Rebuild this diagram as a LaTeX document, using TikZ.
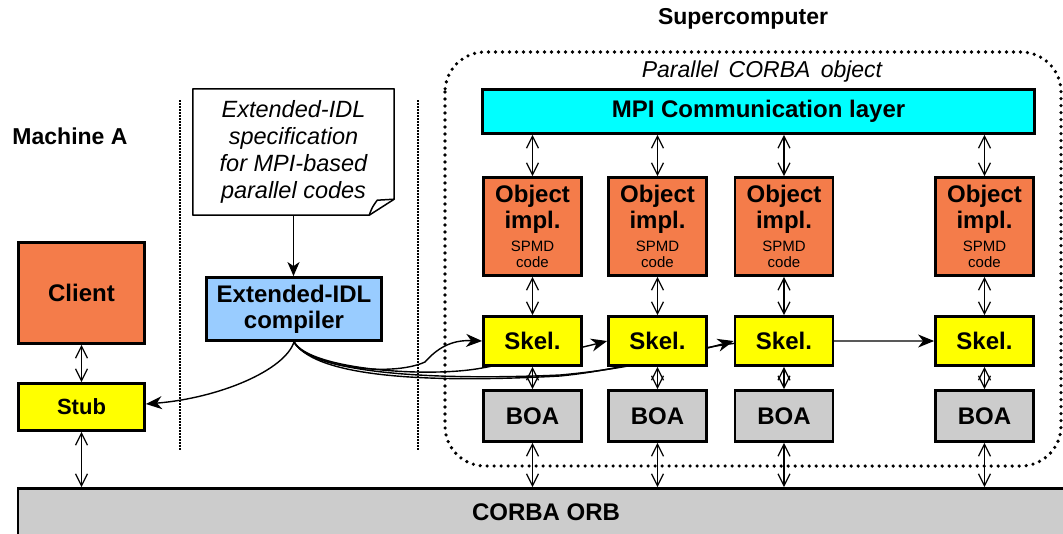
\documentclass[tikz,border=0pt]{standalone}
\usepackage{fontspec}
\setmainfont{Liberation Sans}
\usetikzlibrary{arrows.meta}
\pgfdeclarelayer{bg}
\pgfsetlayers{bg,main}
\definecolor{orangebox}{RGB}{244,124,74}
\definecolor{boagray}{RGB}{204,204,204}
\definecolor{compblue}{RGB}{153,204,255}
\definecolor{mpicyan}{RGB}{0,255,255}
\definecolor{skelyellow}{RGB}{255,255,0}
\begin{document}
\begin{tikzpicture}[x=1pt,y=-1pt,
  bx/.style={draw, line width=2.8pt, rectangle, inner sep=0pt, align=center},
  bigtxt/.style={font=\fontsize{24}{26}\selectfont\bfseries},
  titletxt/.style={font=\fontsize{23}{26}\selectfont\bfseries, inner sep=0pt},
  spmdtxt/.style={font=\fontsize{15}{16}\selectfont, inner sep=0pt},
  dbl/.style={line width=1.2pt, {Straight Barb[length=12pt,width=12pt]}-{Straight Barb[length=12pt,width=12pt]}},
  curv/.style={line width=1.4pt, -{Stealth[length=16pt,width=13pt,inset=5pt]}},
  vdots/.style={line width=1.5pt, dash pattern=on 1.5pt off 1.5pt},
  bigdots/.style={line width=3.6pt, dash pattern=on 0pt off 7pt, line cap=round},
]
\useasboundingbox (0,0) rectangle (1063,533);

% titles
\node[titletxt] (machA) at (70,136) {Machine A};
\node[titletxt] (superc) at (743,19) {Supercomputer};
\node[font=\fontsize{23}{26}\selectfont\itshape, inner sep=0pt] (pco) at (762,72) {Parallel\, CORBA\, object};

% left side
\node[bx, fill=orangebox, minimum width=126pt, minimum height=101pt, bigtxt] (client) at (81.5,293) {Client};
\node[bx, fill=skelyellow, minimum width=126pt, minimum height=47pt, font=\fontsize{22}{24}\selectfont\bfseries] (stub) at (81.5,407) {Stub};

% note
\node[minimum width=201pt, minimum height=126pt, inner sep=0pt, align=center,
      font=\fontsize{23.5}{27}\selectfont\itshape] (note) at (293.5,152)
  {Extended-IDL\\specification\\for MPI-based\\parallel codes};
\draw[line width=1.5pt, line join=round] (note.north west) -- (note.north east)
  -- ([yshift=16pt]note.south east) -- ([xshift=-25pt]note.south east)
  -- (note.south west) -- cycle;
\draw[line width=1.5pt, line join=round] ([xshift=-25pt]note.south east)
  .. controls ([xshift=-22pt,yshift=8pt]note.south east) .. ([xshift=-17pt,yshift=15pt]note.south east)
  -- ([yshift=16pt]note.south east);

\node[bx, fill=compblue, minimum width=175pt, minimum height=63pt, bigtxt] (comp) at (294,309) {Extended-IDL\\compiler};
\draw[line width=1.5pt, -{Stealth[length=14pt,width=12pt,inset=4pt]}] (note.south) -- (note.south |- comp.north);

% supercomputer
\node[bx, fill=mpicyan, minimum width=552pt, minimum height=44pt, bigtxt] (mpi) at (758.5,111.5) {MPI Communication layer};

\foreach \x/\i in {532.5/1,657.5/2,784/3,984.5/4}{
  \node[bx, fill=orangebox, minimum width=98pt, minimum height=98pt] (obj\i) at (\x,226.5) {};
  \node[bigtxt, align=center, anchor=north, inner sep=0pt] (objt\i) at (\x,185) {Object\\impl.};
  \node[spmdtxt, align=center, anchor=north] (objs\i) at (\x,241) {SPMD\\code};
  \node[bx, fill=skelyellow, minimum width=98pt, minimum height=49pt, bigtxt] (skel\i) at (\x,341) {Skel.};
  \node[bx, fill=boagray, minimum width=98pt, minimum height=51pt, bigtxt] (boa\i) at (\x,416) {BOA};
}

% ORB
\node[bx, fill=boagray, minimum width=1056pt, minimum height=47pt, bigtxt] (orb) at (546,512) {CORBA ORB};

% double arrows
\draw[dbl] (client.south) -- (stub.north);
\draw[dbl] (stub.south) -- (stub.south |- orb.north);
\foreach \i in {1,2,3,4}{
  \draw[dbl] (mpi.south -| obj\i.north) -- (obj\i.north);
  \draw[dbl] (obj\i.south) -- (skel\i.north);
  \draw[dbl] (skel\i.south) -- (boa\i.north);
  \draw[dbl] (boa\i.south) -- (boa\i.south |- orb.north);
}

% background: dotted frames and compiler curves
\begin{pgfonlayer}{bg}
  \draw[vdots] (180,100) -- (180,451);
  \draw[vdots] (418,100) -- (418,451);
  \draw[bigdots, rounded corners=40pt] (445,52) rectangle (1061,466);
  \draw[curv] (comp.south) .. controls (285,370) and (220,398) .. ([yshift=3pt]stub.east);
  \draw[curv] (comp.south) .. controls (306,366) and (390,378) .. (425,362)
     .. controls (440,345) and (455,340) .. (skel1.west);
  \draw[curv] (comp.south) .. controls (310,370) and (430,378) .. (482,368)
     .. controls (540,357) and (580,348) .. (skel2.west);
  \draw[curv] (comp.south) .. controls (314,376) and (450,380) .. (560,375)
     .. controls (640,368) and (700,350) .. (skel3.west);
  \draw[curv] (comp.south) .. controls (318,381) and (450,382) .. (560,376)
     .. controls (640,368) and (690,345) .. (760,341) -- (skel4.west);
\end{pgfonlayer}
\end{tikzpicture}
\end{document}
